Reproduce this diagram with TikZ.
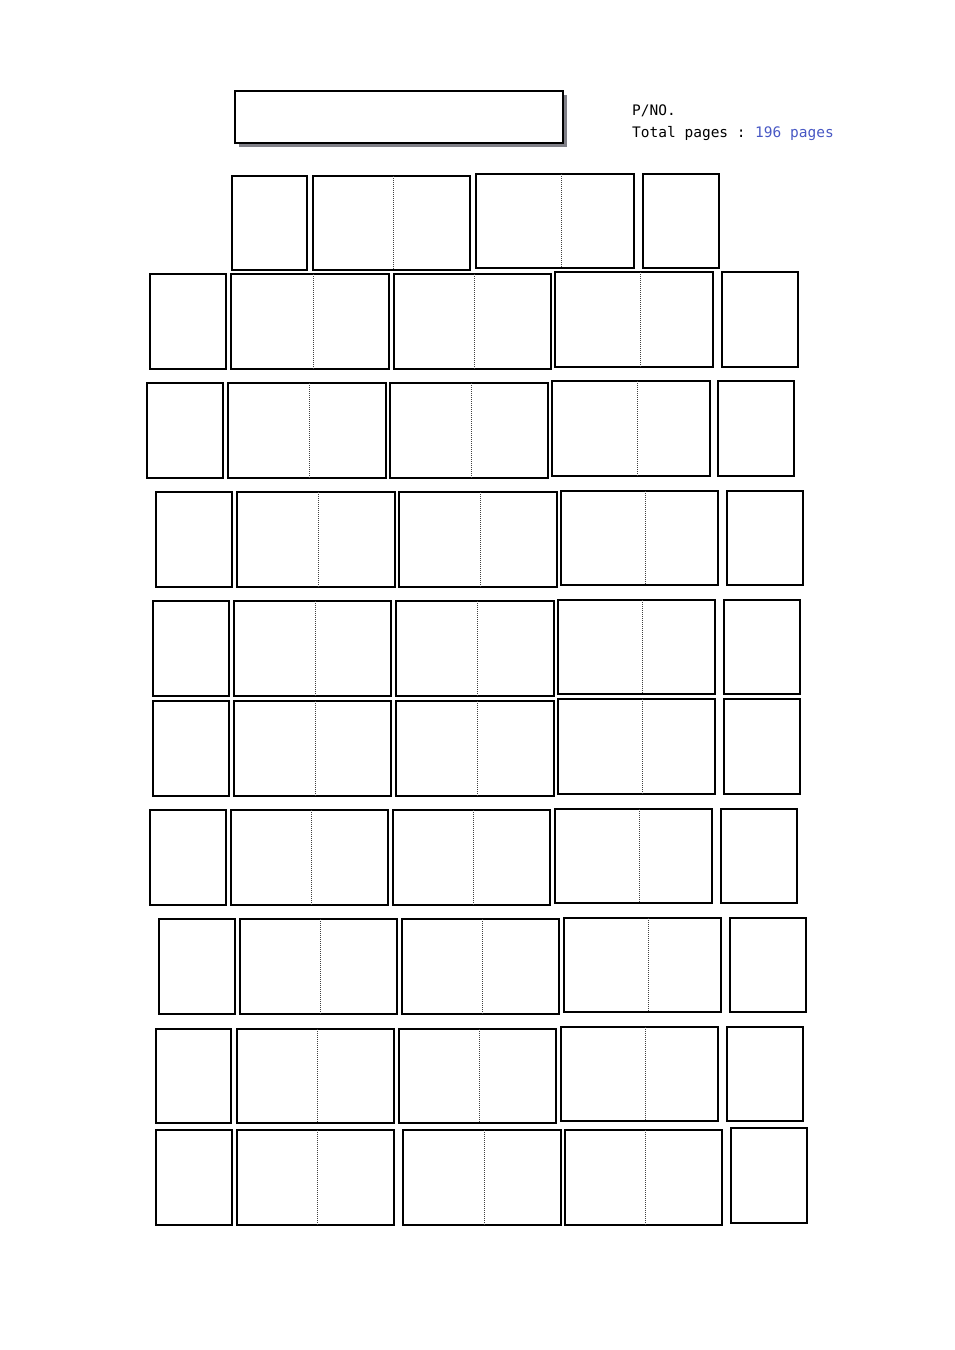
\documentclass[tikz,border=0pt]{standalone}
\usepackage{fontspec}
\newfontfamily\monofnt{DejaVu Sans Mono}
\definecolor{pageblue}{RGB}{72,88,196}
\definecolor{shadowgray}{RGB}{128,128,136}
\tikzset{
  pagebox/.style={draw=black, line width=1.3pt, fill=white},
  foldline/.style={draw=black!75, line width=0.8pt, dash pattern=on 1pt off 1pt},
  hdrtext/.style={anchor=base west, inner sep=0pt, font=\monofnt\fontsize{14.5}{16}\selectfont},
}
\newcommand\single[4]{\draw[pagebox] (#1,#2) rectangle (#3,#4);}
\newcommand\spread[5]{\draw[pagebox] (#1,#2) rectangle (#3,#4); \draw[foldline] (#5,#2) -- (#5,#4);}
\begin{document}
\begin{tikzpicture}[x=1pt,y=-1pt]
\useasboundingbox (0,0) rectangle (954,1350);
% header
\fill[shadowgray] (239,95) rectangle (567,147);
\draw[pagebox] (235,91) rectangle (563,143);
\node[hdrtext] (pno) at (632,115) {P/NO.};
\node[hdrtext] (tot) at (632,137) {Total pages :};
\node[hdrtext, text=pageblue] (cnt) at (755,137) {196 pages};
% row 1
\single{232}{176}{307}{270}
\spread{313}{176}{470}{270}{393}
\spread{476}{174}{634}{268}{561}
\single{643}{174}{719}{268}
% row 2
\single{150}{274}{226}{369}
\spread{231}{274}{389}{369}{313}
\spread{394}{274}{551}{369}{474}
\spread{555}{272}{713}{367}{640}
\single{722}{272}{798}{367}
% row 3
\single{147}{383}{223}{478}
\spread{228}{383}{386}{478}{309}
\spread{390}{383}{548}{478}{471}
\spread{552}{381}{710}{476}{637}
\single{718}{381}{794}{476}
% row 4
\single{156}{492}{232}{587}
\spread{237}{492}{395}{587}{318}
\spread{399}{492}{557}{587}{480}
\spread{561}{491}{718}{585}{645}
\single{727}{491}{803}{585}
% row 5
\single{153}{601}{229}{696}
\spread{234}{601}{391}{696}{315}
\spread{396}{601}{554}{696}{477}
\spread{558}{600}{715}{694}{642}
\single{724}{600}{800}{694}
% row 6
\single{153}{701}{229}{796}
\spread{234}{701}{391}{796}{315}
\spread{396}{701}{554}{796}{477}
\spread{558}{699}{715}{794}{642}
\single{724}{699}{800}{794}
% row 7
\single{150}{810}{226}{905}
\spread{231}{810}{388}{905}{311}
\spread{393}{810}{550}{905}{473}
\spread{555}{809}{712}{903}{639}
\single{721}{809}{797}{903}
% row 8
\single{159}{919}{235}{1014}
\spread{240}{919}{397}{1014}{320}
\spread{402}{919}{559}{1014}{482}
\spread{564}{918}{721}{1012}{648}
\single{730}{918}{806}{1012}
% row 9
\single{156}{1029}{231}{1123}
\spread{237}{1029}{394}{1123}{317}
\spread{399}{1029}{556}{1123}{479}
\spread{561}{1027}{718}{1121}{645}
\single{727}{1027}{803}{1121}
% row 10
\single{156}{1130}{232}{1225}
\spread{237}{1130}{394}{1225}{317}
\spread{403}{1130}{561}{1225}{484}
\spread{565}{1130}{722}{1225}{645}
\single{731}{1128}{807}{1223}
\end{tikzpicture}
\end{document}
